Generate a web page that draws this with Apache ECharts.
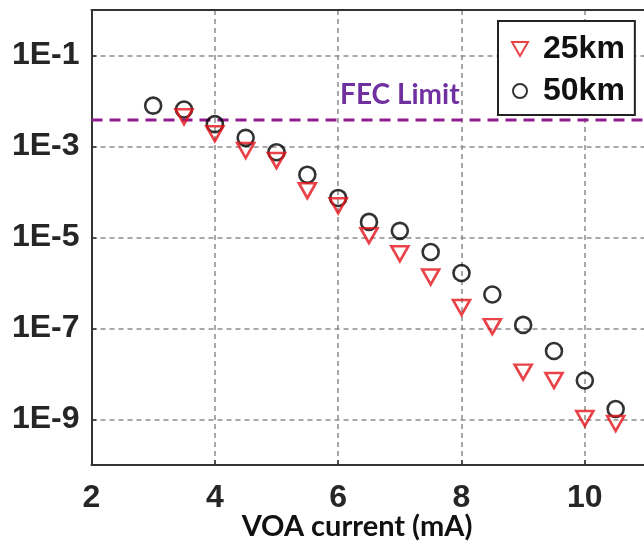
<!DOCTYPE html>
<html><head><meta charset="utf-8">
<script src="https://cdn.jsdelivr.net/npm/echarts@6/dist/echarts.min.js"></script>
<style>html,body{margin:0;padding:0;background:#fff}#c{width:644px;height:545px}</style>
</head><body><div id="c"></div>
<script>
const xs25 = [3.5,4,4.5,5,5.5,6,6.5,7,7.5,8,8.5,9,9.5,10,10.5];
const ber25 = [4.5e-3,1.9e-3,8.2e-4,4.9e-4,1.07e-4,5e-5,1.1e-5,4.4e-6,1.35e-6,2.9e-7,1.1e-7,1.1e-8,7.2e-9,1.05e-9,8.2e-10];
const xs50 = [3,3.5,4,4.5,5,5.5,6,6.5,7,7.5,8,8.5,9,9.5,10,10.5];
const ber50 = [7.9e-3,6.5e-3,3.1e-3,1.55e-3,7.5e-4,2.4e-4,7.4e-5,2.2e-5,1.4e-5,4.8e-6,1.66e-6,5.6e-7,1.2e-7,3.2e-8,7.2e-9,1.7e-9];
const fecLimit = 3.8e-3;
const xRange = [2, 11];
const yRange = [1e-10, 1];
const yTickValues = [1e-9,1e-7,1e-5,1e-3,1e-1];
const yTickLabels = ['1E-9','1E-7','1E-5','1E-3','1E-1'];
const seriesNames = ['25km','50km'];

const chart = echarts.init(document.getElementById('c'), null, {renderer:'canvas'});
const tickFont = {fontFamily:'Liberation Sans, Arial, sans-serif', fontWeight:'bold', fontSize:32, color:'#262626'};
const gridLine = {show:true, lineStyle:{color:'#8c8c8c', width:1.5, type:[5,4]}};
chart.setOption({
  animation:false,
  backgroundColor:'#fff',
  grid:{left:91.5, right:-2.5, top:10, bottom:80, outerBoundsMode:'none', containLabel:false},
  xAxis:[{type:'value', min:xRange[0], max:xRange[1], interval:2,
    axisLine:{show:true, onZero:false, lineStyle:{color:'#333', width:2}},
    axisTick:{show:true, inside:true, length:5, lineStyle:{color:'#333', width:1.5}},
    axisLabel:Object.assign({margin:17, showMaxLabel:false}, tickFont),
    splitLine:gridLine,
    name:'VOA current (mA)', nameLocation:'middle', nameGap:47, nameMoveOverlap:false,
    nameTextStyle:{fontFamily:'Lato, sans-serif', fontWeight:'bold', fontSize:29, color:'#111', padding:[0,24,0,0]}
  },{type:'value', position:'top', min:xRange[0], max:xRange[1],
    axisLine:{show:true, onZero:false, lineStyle:{color:'#333', width:2}},
    axisTick:{show:false}, axisLabel:{show:false}, splitLine:{show:false}
  }],
  yAxis:{type:'log', logBase:10, min:yRange[0], max:yRange[1],
    axisLine:{show:true, onZero:false, lineStyle:{color:'#333', width:2}},
    axisTick:{show:true, inside:true, length:5, customValues:yTickValues, lineStyle:{color:'#333', width:1.5}},
    axisLabel:Object.assign({margin:12, customValues:yTickValues,
      formatter:(v)=>{const i=yTickValues.findIndex(t=>Math.abs(Math.log10(t)-Math.log10(v))<1e-6);return i>=0?yTickLabels[i]:'';}}, tickFont),
    splitLine:gridLine
  },
  legend:{data:[{name:seriesNames[0], icon:'path://M0,0 L16,0 L8,14 Z'},{name:seriesNames[1]}],
    orient:'vertical', left:498, top:21,
    itemWidth:36, itemHeight:14, itemGap:10, padding:[12,10,8,13],
    borderColor:'#222', borderWidth:2, backgroundColor:'#fff',
    textStyle:{fontFamily:'Liberation Sans, Arial, sans-serif', fontWeight:'bold', fontSize:32, lineHeight:32, color:'#111'}
  },
  series:[
    {name:'FEC', type:'line', data:xRange.map(x=>[x,fecLimit]), symbol:'none', silent:true,
      lineStyle:{color:'#8e1c8e', width:3, type:[11,7]}, z:1},
    {name:seriesNames[1], type:'scatter', data:xs50.map((x,i)=>[x,ber50[i]]),
      symbol:'circle', symbolSize:16,
      itemStyle:{color:'rgba(0,0,0,0)', borderColor:'#000', borderWidth:2.6}, z:2},
    {name:seriesNames[0], type:'scatter', data:xs25.map((x,i)=>[x,ber25[i]]),
      symbol:'triangle', symbolRotate:180, symbolSize:[17,15],
      itemStyle:{color:'rgba(0,0,0,0)', borderColor:'#e4141b', borderWidth:2.6}, z:3}
  ]
});
const p = chart.convertToPixel({gridIndex:0},[7,fecLimit]);
chart.setOption({graphic:[{type:'text', x:p[0], y:p[1]-25,
  style:{text:'FEC Limit', fontFamily:'Lato, sans-serif', fontWeight:'bold', fontSize:28, fill:'#7030a0', align:'center', verticalAlign:'middle'}}]});
</script></body></html>
